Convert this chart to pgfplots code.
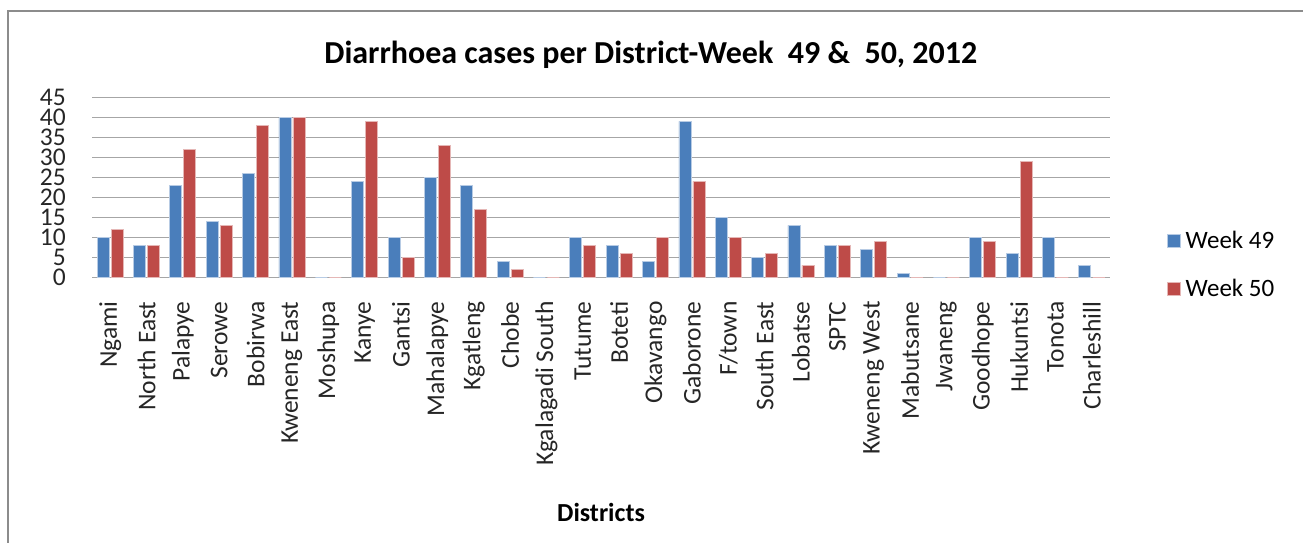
\documentclass[border=0pt]{standalone}
\usepackage{fontspec}
\setmainfont{Carlito}
\usepackage{pgfplots}
\pgfplotsset{compat=1.18}
\definecolor{b49}{HTML}{4A7EBB}
\definecolor{r50}{HTML}{BE4B48}
\definecolor{gridc}{HTML}{A6A6A6}
\definecolor{framec}{HTML}{8C8C8C}
\begin{document}
\begin{tikzpicture}[x=1pt,y=1pt]
\useasboundingbox (0,0) rectangle (1303,543);
\draw[framec, line width=2pt] (8,-5) -- (8,532) -- (1310,532);
\begin{axis}[
  at={(92pt,265.7pt)}, anchor=south west,
  width=1018pt, height=180pt, scale only axis,
  xmin=-0.5, xmax=27.5, ymin=0, ymax=45,
  ybar=2pt, bar width=12pt,
  xtick={0,...,27},
  xticklabels={Ngami,North East,Palapye,Serowe,Bobirwa,Kweneng East,Moshupa,Kanye,Gantsi,Mahalapye,Kgatleng,Chobe,Kgalagadi South,Tutume,Boteti,Okavango,Gaborone,F/town,South East,Lobatse,SPTC,Kweneng West,Mabutsane,Jwaneng,Goodhope,Hukuntsi,Tonota,Charleshill},
  ytick={0,5,...,45},
  ymajorgrids, grid style={gridc, line width=1.5pt},
  axis line style={draw=none}, major tick length=0pt,
  /pgf/number format/assume math mode=true,
  tick label style={font=\fontsize{25.5}{25.5}\selectfont, text=black!85},
  xticklabel style={rotate=90, anchor=east, inner sep=0pt},
  xticklabel shift=24pt,
  yticklabel style={anchor=east, inner sep=0pt, text height=16pt, text depth=0pt},
  yticklabel shift=26pt,
  title={Diarrhoea cases per District-Week\ \ 49 \&\ \ 50, 2012},
  title style={font=\bfseries\fontsize{32}{32}\selectfont, at={(0.549,1)}, anchor=center, yshift=37pt},
  xlabel={Districts},
  xlabel style={font=\bfseries\fontsize{26}{26}\selectfont, at={(0.5,0)}, anchor=center, yshift=-234.7pt},
  legend style={at={(1.056,0.071)}, anchor=west, draw=none, fill=none,
    font=\fontsize{25}{25}\selectfont, row sep=29pt, inner sep=0pt,
    cells={anchor=west}, nodes={inner xsep=5pt, inner ysep=0pt}},
  legend image code/.code={\draw[#1, line width=0.5pt] (0pt,-6.5pt) rectangle (13pt,6.5pt);},
]
\addplot[fill=b49, draw=b49!40!white, line width=0.8pt] coordinates {
(0,10) (1,8) (2,23) (3,14) (4,26) (5,40) (6,0) (7,24) (8,10) (9,25) (10,23) (11,4) (12,0) (13,10)
(14,8) (15,4) (16,39) (17,15) (18,5) (19,13) (20,8) (21,7) (22,1) (23,0) (24,10) (25,6) (26,10) (27,3)};
\addplot[fill=r50, draw=r50!40!white, line width=0.8pt] coordinates {
(0,12) (1,8) (2,32) (3,13) (4,38) (5,40) (6,0) (7,39) (8,5) (9,33) (10,17) (11,2) (12,0) (13,8)
(14,6) (15,10) (16,24) (17,10) (18,6) (19,3) (20,8) (21,9) (22,0) (23,0) (24,9) (25,29) (26,0) (27,0)};
\legend{Week 49, Week 50}
\end{axis}
\end{tikzpicture}
\end{document}
